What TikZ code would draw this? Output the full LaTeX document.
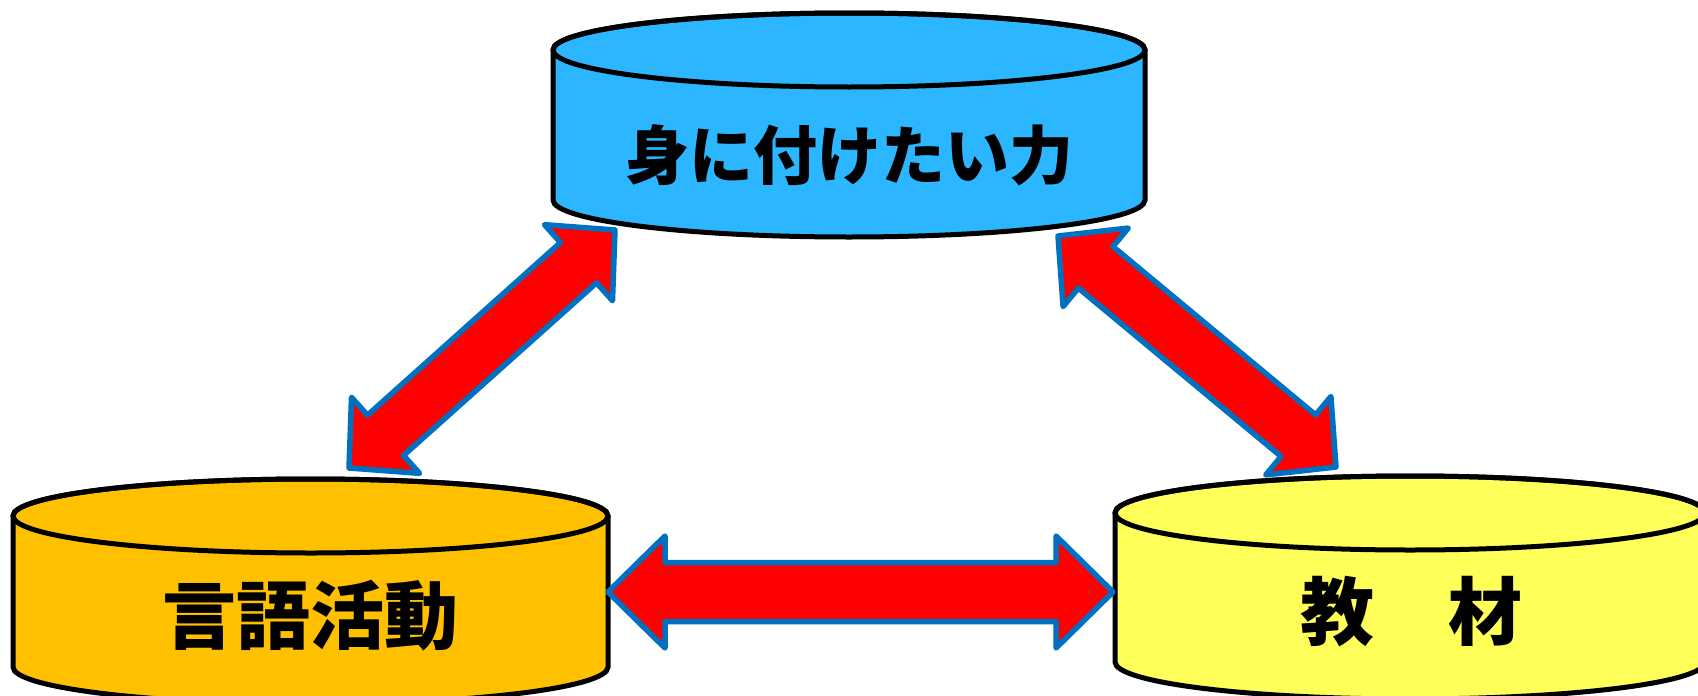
\documentclass[tikz,border=0pt]{standalone}
\usepackage{fontspec}
\newfontfamily\jpfont{Noto Sans CJK JP}
\usetikzlibrary{calc}
\definecolor{skyblue}{RGB}{44,182,255}
\definecolor{amber}{RGB}{255,192,0}
\definecolor{lemon}{RGB}{255,255,89}
\definecolor{linkblue}{RGB}{0,112,192}

% block arrow with two heads, tips #1 and #2
\newcommand{\twoway}[5]{%
  \coordinate (#1-base) at ($(#1)!#3!(#2)$);
  \coordinate (#2-base) at ($(#2)!#3!(#1)$);
  \filldraw[link] (#1) -- ($(#1-base)!#4!90:(#2)$) -- ($(#1-base)!#5!90:(#2)$)
    -- ($(#2-base)!#5!-90:(#1)$) -- ($(#2-base)!#4!-90:(#1)$) -- (#2)
    -- ($(#2-base)!#4!90:(#1)$) -- ($(#2-base)!#5!90:(#1)$)
    -- ($(#1-base)!#5!-90:(#2)$) -- ($(#1-base)!#4!-90:(#2)$) -- cycle;
}

\begin{document}
\begin{tikzpicture}[x=1pt, y=-1pt,
  drum/.style={draw=black, line width=5pt},
  link/.style={fill=red, draw=linkblue, line width=5.5pt, line join=round},
  drumtext/.style={font=\jpfont\bfseries\fontsize{74}{80}\selectfont, inner sep=0pt}]
  \useasboundingbox (0,0) rectangle (1698,696);
  % drums
  \filldraw[drum, fill=skyblue] (553,50) -- (553,200) arc[start angle=180, end angle=0, x radius=296, y radius=37] -- (1145,50) arc[start angle=0, end angle=-180, x radius=296, y radius=37] -- cycle;
  \draw[drum] (849,50) ellipse[x radius=296, y radius=37];
  \filldraw[drum, fill=amber] (13,516) -- (13,667) arc[start angle=180, end angle=0, x radius=297.5, y radius=37] -- (608,516) arc[start angle=0, end angle=-180, x radius=297.5, y radius=37] -- cycle;
  \draw[drum] (310.5,516) ellipse[x radius=297.5, y radius=37];
  \filldraw[drum, fill=lemon] (1115,513) -- (1115,662) arc[start angle=180, end angle=0, x radius=295, y radius=37] -- (1705,513) arc[start angle=0, end angle=-180, x radius=295, y radius=37] -- cycle;
  \draw[drum] (1410,513) ellipse[x radius=295, y radius=37];
  \node[drumtext, font=\jpfont\bfseries\fontsize{64}{70}\selectfont] (goal) at (849,155) {身に付けたい力};
  \node[drumtext] (activity) at (310,616) {言語活動};
  \node[drumtext] (material) at (1411,612) {教　材};
  % arrows
  \coordinate (act-e) at (608,592);
  \coordinate (mat-w) at (1113,592);
  \coordinate (act-n) at (349,468);
  \coordinate (goal-sw) at (615,230);
  \coordinate (goal-se) at (1058,236);
  \coordinate (mat-n) at (1336,467);
  \twoway{act-e}{mat-w}{57pt}{56pt}{29.5pt}
  \twoway{act-n}{goal-sw}{49pt}{51pt}{27pt}
  \twoway{goal-se}{mat-n}{49pt}{51pt}{27pt}
\end{tikzpicture}
\end{document}
